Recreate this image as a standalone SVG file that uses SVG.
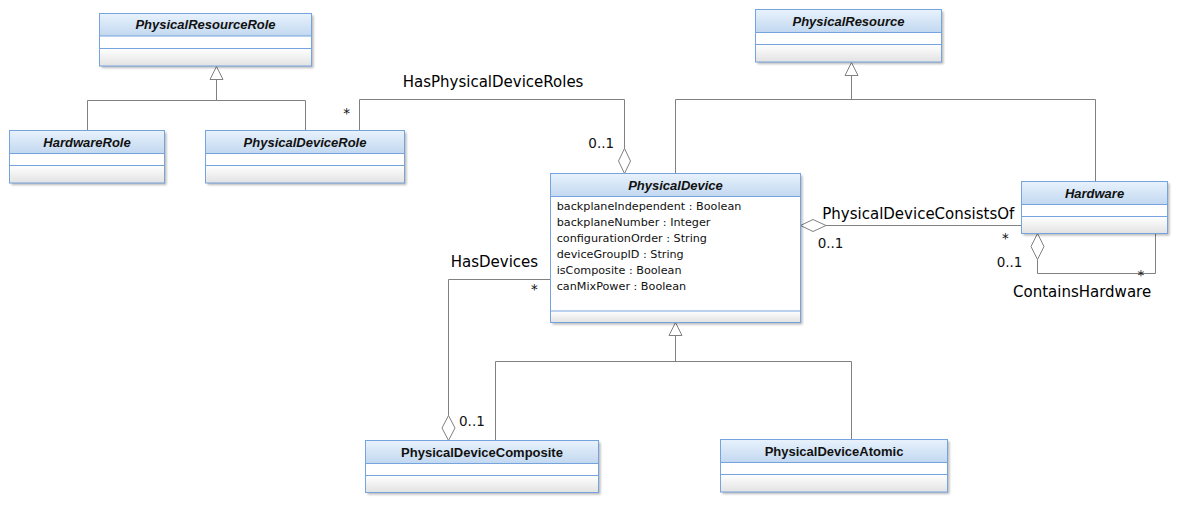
<svg xmlns="http://www.w3.org/2000/svg" width="1181" height="508" viewBox="0 0 1181 508">
<style>
.box{fill:#ffffff;stroke:none;filter:url(#sh)}
.hdr{fill:url(#gh)}
.ops{fill:url(#go)}
.frame{fill:none;stroke:#74a3de;stroke-width:1}
.sep{stroke:#74a3de;stroke-width:1}
.ttl{font-family:"Liberation Sans",Arial,sans-serif;font-size:13px;font-weight:bold;font-style:italic;fill:#111;text-anchor:middle}
.ttlc{font-family:"Liberation Sans",Arial,sans-serif;font-size:13px;font-weight:bold;fill:#111;text-anchor:middle}
.attr{font-family:"DejaVu Sans",Verdana,sans-serif;font-size:11.2px;fill:#111}
.lbl{font-family:"DejaVu Sans",Verdana,sans-serif;font-size:15px;fill:#000}
.mul{font-family:"DejaVu Sans",Verdana,sans-serif;font-size:13.5px;fill:#111}
.cn{fill:none;stroke:#808080;stroke-width:1}
.hd{fill:#ffffff;stroke:#808080;stroke-width:1}
</style>
<defs>
<linearGradient id="gh" x1="0" y1="0" x2="0" y2="1">
<stop offset="0" stop-color="#e8f2fc"/>
<stop offset="1" stop-color="#c2d8f0"/>
</linearGradient>
<linearGradient id="go" x1="0" y1="0" x2="0" y2="1">
<stop offset="0" stop-color="#ffffff"/>
<stop offset="1" stop-color="#e2e2e2"/>
</linearGradient>
<filter id="sh" x="-5%" y="-10%" width="115%" height="130%">
<feDropShadow dx="2" dy="2" stdDeviation="1.2" flood-color="#000" flood-opacity="0.28"/>
</filter>
</defs>

<g id="connectors">
<!-- generalization to PhysicalResourceRole -->
<path class="cn" d="M216.5,79.5 V100.5 M87.5,130.5 V100.5 H305.5 V130.5"/>
<path class="hd" d="M216.5,66.5 L210,79.5 L223,79.5 Z"/>
<!-- HasPhysicalDeviceRoles -->
<path class="cn" d="M359.5,130.5 V99.5 H624.5 V148.5"/>
<path class="hd" d="M624.5,148.5 L630.5,161 L624.5,173.5 L618.5,161 Z"/>
<!-- generalization to PhysicalResource -->
<path class="cn" d="M851.5,75.5 V99.5 M675.5,173.5 V99.5 H1095.5 V181.5"/>
<path class="hd" d="M851.5,62.5 L845,75.5 L858,75.5 Z"/>
<!-- PhysicalDeviceConsistsOf -->
<path class="cn" d="M826,225.5 H1021.5"/>
<path class="hd" d="M800.5,225.5 L813,219.5 L826,225.5 L813,231.5 Z"/>
<!-- ContainsHardware -->
<path class="cn" d="M1037.5,259.5 V273.5 H1155.5 V233.5"/>
<path class="hd" d="M1037.5,233.5 L1044,246.5 L1037.5,259.5 L1031,246.5 Z"/>
<!-- HasDevices -->
<path class="cn" d="M550.5,279.5 H448.5 V415.5"/>
<path class="hd" d="M448.5,415.5 L455,428 L448.5,440.5 L442,428 Z"/>
<!-- generalization to PhysicalDevice -->
<path class="cn" d="M675.5,335.5 V361.5 M495.5,440.5 V361.5 H851.5 V439.5"/>
<path class="hd" d="M675.5,322.5 L669,335.5 L682,335.5 Z"/>

<text class="lbl" x="402.7" y="87">HasPhysicalDeviceRoles</text>
<text class="mul" x="343.3" y="118">*</text>
<text class="mul" x="588.3" y="148.3">0..1</text>
<text class="lbl" x="822.3" y="219">PhysicalDeviceConsistsOf</text>
<text class="mul" x="817.7" y="248.3">0..1</text>
<text class="mul" x="1002" y="243">*</text>
<text class="mul" x="996.7" y="266.5">0..1</text>
<text class="mul" x="1137.6" y="279.5">*</text>
<text class="lbl" x="1013" y="297">ContainsHardware</text>
<text class="lbl" x="450.7" y="267">HasDevices</text>
<text class="mul" x="531" y="293.5">*</text>
<text class="mul" x="459" y="426">0..1</text>
</g>

<g id="PhysicalResourceRole">
<rect class="box" x="99.5" y="13.5" width="212" height="52.5"/>
<rect class="hdr" x="99.5" y="13.5" width="212" height="22.5"/>
<rect class="ops" x="99.5" y="48.5" width="212" height="17.5"/>
<path class="sep" d="M99.5,36 H311.5 M99.5,48.5 H311.5"/>
<rect class="frame" x="99.5" y="13.5" width="212" height="52.5"/>
<text class="ttl" x="205.5" y="29">PhysicalResourceRole</text>
</g>

<g id="HardwareRole">
<rect class="box" x="9.5" y="130.5" width="155" height="52.5"/>
<rect class="hdr" x="9.5" y="130.5" width="155" height="23"/>
<rect class="ops" x="9.5" y="165.5" width="155" height="17.5"/>
<path class="sep" d="M9.5,153.5 H164.5 M9.5,165.5 H164.5"/>
<rect class="frame" x="9.5" y="130.5" width="155" height="52.5"/>
<text class="ttl" x="87" y="146.5">HardwareRole</text>
</g>

<g id="PhysicalDeviceRole">
<rect class="box" x="205.5" y="130.5" width="199" height="52.5"/>
<rect class="hdr" x="205.5" y="130.5" width="199" height="23"/>
<rect class="ops" x="205.5" y="165.5" width="199" height="17.5"/>
<path class="sep" d="M205.5,153.5 H404.5 M205.5,165.5 H404.5"/>
<rect class="frame" x="205.5" y="130.5" width="199" height="52.5"/>
<text class="ttl" x="305" y="146.5">PhysicalDeviceRole</text>
</g>

<g id="PhysicalResource">
<rect class="box" x="755.5" y="9.5" width="186" height="52.5"/>
<rect class="hdr" x="755.5" y="9.5" width="186" height="23"/>
<rect class="ops" x="755.5" y="44.5" width="186" height="17.5"/>
<path class="sep" d="M755.5,32.5 H941.5 M755.5,44.5 H941.5"/>
<rect class="frame" x="755.5" y="9.5" width="186" height="52.5"/>
<text class="ttl" x="848.5" y="25.5">PhysicalResource</text>
</g>

<g id="PhysicalDevice">
<rect class="box" x="550.5" y="173.5" width="250" height="149"/>
<rect class="hdr" x="550.5" y="173.5" width="250" height="23"/>
<rect class="ops" x="550.5" y="311" width="250" height="11.5"/>
<path class="sep" d="M550.5,196.5 H800.5 M550.5,311 H800.5"/>
<rect class="frame" x="550.5" y="173.5" width="250" height="149"/>
<text class="ttl" x="675.5" y="189.5">PhysicalDevice</text>
<text class="attr" x="556.7" y="210">backplaneIndependent : Boolean</text>
<text class="attr" x="556.7" y="226">backplaneNumber : Integer</text>
<text class="attr" x="556.7" y="242">configurationOrder : String</text>
<text class="attr" x="556.7" y="258">deviceGroupID : String</text>
<text class="attr" x="556.7" y="274">isComposite : Boolean</text>
<text class="attr" x="556.7" y="290">canMixPower : Boolean</text>
</g>

<g id="Hardware">
<rect class="box" x="1021.5" y="181.5" width="146" height="52"/>
<rect class="hdr" x="1021.5" y="181.5" width="146" height="23"/>
<rect class="ops" x="1021.5" y="216.5" width="146" height="17"/>
<path class="sep" d="M1021.5,204.5 H1167.5 M1021.5,216.5 H1167.5"/>
<rect class="frame" x="1021.5" y="181.5" width="146" height="52"/>
<text class="ttl" x="1094.5" y="197.5">Hardware</text>
</g>

<g id="PhysicalDeviceComposite">
<rect class="box" x="365.5" y="440.5" width="233" height="52"/>
<rect class="hdr" x="365.5" y="440.5" width="233" height="23"/>
<rect class="ops" x="365.5" y="475.5" width="233" height="17"/>
<path class="sep" d="M365.5,463.5 H598.5 M365.5,475.5 H598.5"/>
<rect class="frame" x="365.5" y="440.5" width="233" height="52"/>
<text class="ttlc" x="482" y="456.5">PhysicalDeviceComposite</text>
</g>

<g id="PhysicalDeviceAtomic">
<rect class="box" x="720.5" y="439.5" width="227" height="52.5"/>
<rect class="hdr" x="720.5" y="439.5" width="227" height="23"/>
<rect class="ops" x="720.5" y="474.5" width="227" height="17.5"/>
<path class="sep" d="M720.5,462.5 H947.5 M720.5,474.5 H947.5"/>
<rect class="frame" x="720.5" y="439.5" width="227" height="52.5"/>
<text class="ttlc" x="834" y="455.5">PhysicalDeviceAtomic</text>
</g>
</svg>
